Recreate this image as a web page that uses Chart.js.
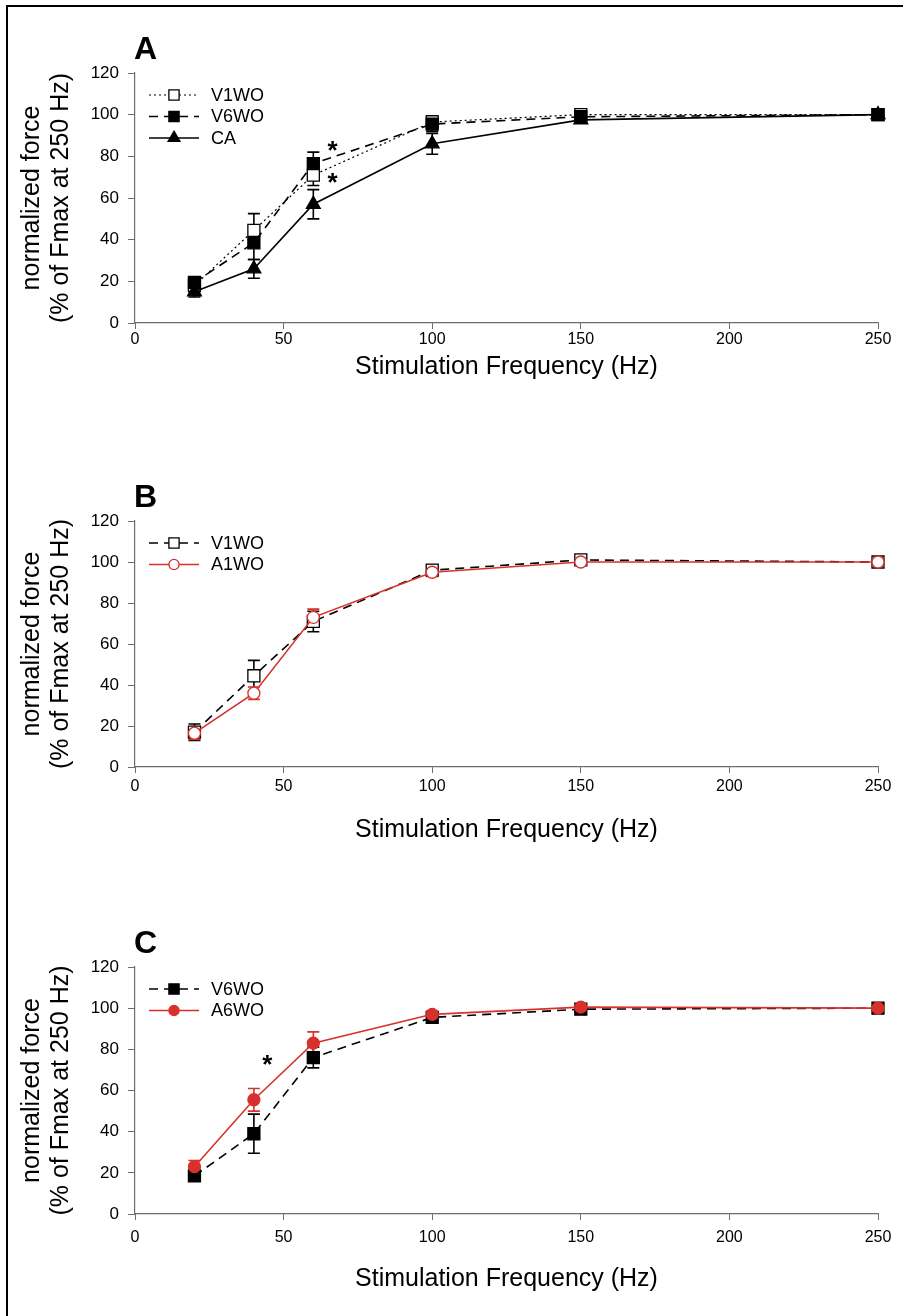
<!DOCTYPE html>
<html>
<head>
<meta charset="utf-8">
<script src="https://cdn.jsdelivr.net/npm/chart.js@4.4.1/dist/chart.umd.min.js"></script>
<style>
  body { margin: 0; background: #fff; width: 903px; height: 1316px; overflow: hidden; position: relative; }
  .frame { position: absolute; left: 6px; top: 5px; width: 1000px; height: 1400px; border: 2px solid #000; }
  canvas { position: absolute; left: 0; }
</style>
</head>
<body>
<div class="frame"></div>
<canvas id="chartA" width="903" height="380" style="top:28px"></canvas>
<canvas id="chartB" width="903" height="376" style="top:476px"></canvas>
<canvas id="chartC" width="903" height="377" style="top:922px"></canvas>
<script>
// stimulation frequencies (Hz)
const freq = [20, 40, 60, 100, 150, 250];
const xTicks = [0, 50, 100, 150, 200, 250];
const yTicks = [0, 20, 40, 60, 80, 100, 120];

// panel A
const v1woA = [18, 44.5, 71, 96.5, 100, 100];
const v1woAErr = [3, 8, 5, 3, 2.5, 0];
const v6woA = [19.5, 38.5, 76.5, 95.5, 99, 100];
const v6woAErr = [2.5, 8, 5.5, 3.5, 2, 0.5];
const caA = [15, 26, 57, 86, 97.5, 100];
const caAErr = [2.5, 4.5, 7, 5, 1.5, 0];

// panel B
const v1woB = [17, 44.5, 71, 96, 101, 100];
const v1woBErr = [4, 7.5, 5, 2.5, 1.5, 0];
const a1woB = [16.5, 36, 73, 95, 100, 100];
const a1woBErr = [3, 3, 4, 2, 1, 0];

// panel C
const v6woC = [18.5, 39, 76, 95.5, 99.5, 100];
const v6woCErr = [2, 9.5, 5, 1.5, 1, 0.5];
const a6woC = [23, 55.5, 83, 97, 100.5, 100];
const a6woCErr = [3, 5.5, 5.5, 1.5, 1, 0];

// significance marks [freq, value]
const starsA = [[66.5, 85.5], [66.5, 70]];
const starsB = [];
const starsC = [[44.5, 75.5]];

const RED = '#d8312b';
const FONT = '"Liberation Sans", Arial, sans-serif';

// order: lower number is drawn on top
function series(label, values, errs, color, dash, style, fill, radius, order, width) {
    return {
        label: label,
        data: values.map((v, i) => ({ x: freq[i], y: v })),
        errs: errs,
        order: order,
        borderColor: color,
        borderWidth: width || 1.6,
        borderDash: dash,
        pointStyle: style,
        pointRadius: radius,
        pointBorderWidth: 1.3,
        pointBorderColor: color,
        pointBackgroundColor: fill,
        fill: false,
        clip: false,
        tension: 0
    };
}

// error bars, drawn under the markers
const errorBars = {
    id: 'errorBars',
    beforeDatasetsDraw(chart) {
        const ctx = chart.ctx, xs = chart.scales.x, ys = chart.scales.y;
        chart.data.datasets.forEach(ds => {
            ctx.save();
            ctx.strokeStyle = ds.borderColor;
            ctx.lineWidth = 1.6;
            ds.data.forEach((p, i) => {
                const e = ds.errs[i];
                if (!e) return;
                const px = xs.getPixelForValue(p.x);
                const y1 = ys.getPixelForValue(p.y + e), y2 = ys.getPixelForValue(p.y - e);
                ctx.beginPath();
                ctx.moveTo(px, y1); ctx.lineTo(px, y2);
                ctx.moveTo(px - 6, y1); ctx.lineTo(px + 6, y1);
                ctx.moveTo(px - 6, y2); ctx.lineTo(px + 6, y2);
                ctx.stroke();
            });
            ctx.restore();
        });
    }
};

function drawMarker(ctx, style, r, x, y) {
    if (style === 'rect') {
        const h = r * Math.SQRT1_2;
        ctx.rect(x - h, y - h, 2 * h, 2 * h);
    } else if (style === 'triangle') {
        ctx.moveTo(x, y - r);
        ctx.lineTo(x + r * 0.87, y + r * 0.5);
        ctx.lineTo(x - r * 0.87, y + r * 0.5);
        ctx.closePath();
    } else {
        ctx.arc(x, y, r, 0, Math.PI * 2);
    }
}

// legend in upper left, panel letter and asterisks
const decorations = {
    id: 'decorations',
    afterDraw(chart, args, opts) {
        const ctx = chart.ctx, area = chart.chartArea;
        const xs = chart.scales.x, ys = chart.scales.y;
        ctx.save();
        ctx.fillStyle = '#000';
        ctx.font = 'bold 32px ' + FONT;
        ctx.textBaseline = 'middle';
        ctx.textAlign = 'left';
        ctx.fillText(opts.letter, area.left - 1, area.top - 23);

        chart.data.datasets.forEach((ds, i) => {
            const y = area.top + 22 + i * 21.5;
            ctx.save();
            ctx.strokeStyle = ds.borderColor;
            ctx.lineWidth = ds.borderWidth;
            ctx.setLineDash(ds.borderDash || []);
            ctx.beginPath();
            ctx.moveTo(149, y); ctx.lineTo(199, y);
            ctx.stroke();
            ctx.restore();
            ctx.fillStyle = ds.pointBackgroundColor;
            ctx.strokeStyle = ds.borderColor;
            ctx.lineWidth = ds.pointBorderWidth;
            ctx.beginPath();
            drawMarker(ctx, ds.pointStyle, ds.pointRadius * 0.85, 174, y);
            ctx.fill(); ctx.stroke();
            ctx.fillStyle = '#000';
            ctx.font = '18px ' + FONT;
            ctx.fillText(ds.label, 211, y + 1);
        });

        ctx.font = 'bold 26px ' + FONT;
        ctx.textAlign = 'center';
        opts.stars.forEach(s => {
            ctx.fillText('*', xs.getPixelForValue(s[0]), ys.getPixelForValue(s[1]) + 7);
        });
        ctx.restore();
    }
};

function makePanel(id, datasets, letter, stars, tickPad, titlePad) {
    const axisColor = '#6e6e6e';
    new Chart(document.getElementById(id), {
        type: 'line',
        data: { datasets: datasets },
        options: {
            responsive: false,
            animation: false,
            layout: { padding: { left: 0, right: 25, top: 45, bottom: 0 } },
            plugins: {
                legend: { display: false },
                tooltip: { enabled: false },
                decorations: { letter: letter, stars: stars }
            },
            scales: {
                x: {
                    type: 'linear', min: 0, max: 250,
                    afterBuildTicks: s => { s.ticks = xTicks.map(v => ({ value: v })); },
                    afterFit: s => { s.height = 85; },
                    ticks: { color: '#000', padding: tickPad, font: { family: FONT, size: 16 }, maxRotation: 0 },
                    grid: { drawOnChartArea: false, tickLength: 6, color: axisColor },
                    border: { color: axisColor, width: 1.2 },
                    title: {
                        display: true, text: 'Stimulation Frequency (Hz)', color: '#000',
                        font: { family: FONT, size: 25, lineHeight: 1.2 }, padding: { top: 0, bottom: titlePad }
                    }
                },
                y: {
                    min: 0, max: 120,
                    afterBuildTicks: s => { s.ticks = yTicks.map(v => ({ value: v })); },
                    afterFit: s => { s.width = 135; },
                    ticks: { color: '#000', padding: 9, font: { family: FONT, size: 17 } },
                    grid: { drawOnChartArea: false, tickLength: 7, color: axisColor },
                    border: { color: axisColor, width: 1.2 },
                    title: {
                        display: true, text: ['normalized force', '(% of Fmax at 250 Hz)'], color: '#000',
                        font: { family: FONT, size: 25, lineHeight: 1.16 }, padding: { top: 18, bottom: 0 }
                    }
                }
            }
        },
        plugins: [errorBars, decorations]
    });
}

makePanel('chartA', [
    series('V1WO', v1woA, v1woAErr, '#000', [2, 3], 'rect', '#fff', 8.5, 3, 1.2),
    series('V6WO', v6woA, v6woAErr, '#000', [9, 6], 'rect', '#000', 8.5, 1),
    series('CA', caA, caAErr, '#000', [], 'triangle', '#000', 8, 2)
], 'A', starsA, 1, 26);

makePanel('chartB', [
    series('V1WO', v1woB, v1woBErr, '#000', [9, 6], 'rect', '#fff', 8.5, 2),
    series('A1WO', a1woB, a1woBErr, RED, [], 'circle', '#fff', 6, 1)
], 'B', starsB, 4, 7);

makePanel('chartC', [
    series('V6WO', v6woC, v6woCErr, '#000', [9, 6], 'rect', '#000', 8.5, 2),
    series('A6WO', a6woC, a6woCErr, RED, [], 'circle', RED, 6, 1)
], 'C', starsC, 8, 5);
</script>
</body>
</html>
